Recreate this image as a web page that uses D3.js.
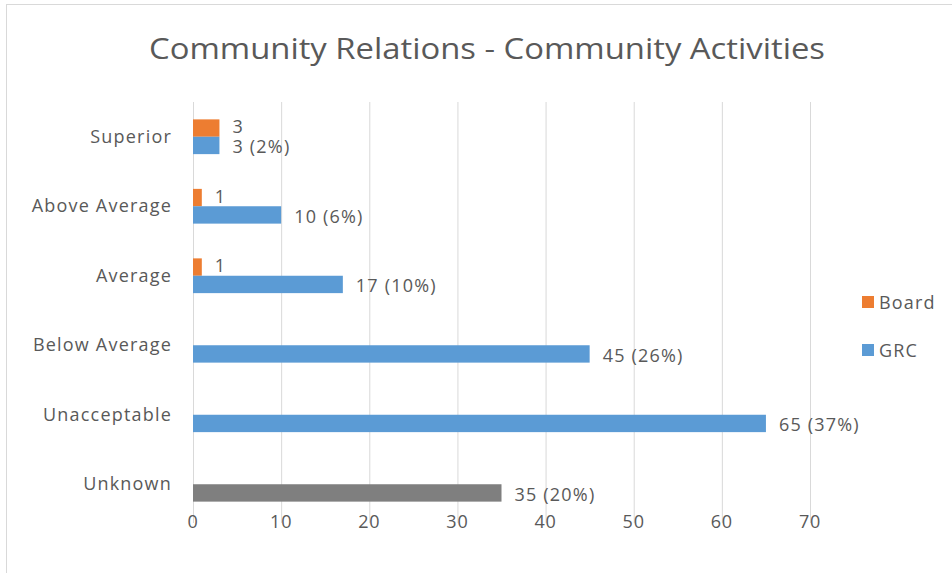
<!DOCTYPE html>
<html>
<head>
<meta charset="utf-8">
<script src="https://cdn.jsdelivr.net/npm/d3@7/dist/d3.min.js"></script>
<style>
  html, body { margin: 0; padding: 0; background: #fff; }
  svg { display: block; font-family: "Open Sans", "Noto Sans", sans-serif; }
</style>
</head>
<body>
<svg id="chart" width="952" height="573"></svg>
<script>
// Ratings and counts per rater group
const categories = ["Superior", "Above Average", "Average", "Below Average", "Unacceptable", "Unknown"];
const boardValues = [3, 1, 1, 0, 0, 0];
const grcValues = [3, 10, 17, 45, 65, 35];
const xTicks = [0, 10, 20, 30, 40, 50, 60, 70];
const seriesNames = ["Board", "GRC"];
const seriesColors = ["#ED7D31", "#5B9BD5"];
const unknownColor = "#7F7F7F";
const titleText = "Community Relations - Community Activities";

const svg = d3.select("#chart");
const textColor = "#595959";
const labelFont = 18;
const labelSpacing = 1.2;

// chart frame
svg.append("rect")
  .attr("x", 6.5).attr("y", 4.5)
  .attr("width", 1000).attr("height", 600)
  .attr("fill", "#fff")
  .attr("stroke", "#d9d9d9");

const plot = { left: 193, right: 810, top: 102, bottom: 519 };

const x = d3.scaleLinear().domain([0, 70]).range([plot.left, plot.right]);
const y = d3.scaleBand().domain(categories).range([plot.top, plot.bottom]).paddingInner(0.5).paddingOuter(0.25);
const ySeries = d3.scaleBand().domain(seriesNames).range([0, y.bandwidth()]);

// title
svg.append("text")
  .attr("x", 487).attr("y", 59)
  .attr("text-anchor", "middle")
  .attr("fill", textColor)
  .attr("font-size", 30)
  .attr("textLength", 676)
  .attr("lengthAdjust", "spacingAndGlyphs")
  .text(titleText);

// vertical gridlines
svg.append("g")
  .selectAll("line")
  .data(xTicks)
  .join("line")
  .attr("x1", d => x(d) + 0.5).attr("x2", d => x(d) + 0.5)
  .attr("y1", plot.top).attr("y2", plot.bottom + 4)
  .attr("stroke", "#d9d9d9");

// x axis tick labels
svg.append("g")
  .selectAll("text")
  .data(xTicks)
  .join("text")
  .attr("x", d => x(d))
  .attr("y", 528)
  .attr("text-anchor", "middle")
  .attr("fill", textColor)
  .attr("font-size", labelFont)
  .attr("letter-spacing", 0.8)
  .text(d => d);

// category labels
svg.append("g")
  .selectAll("text")
  .data(categories)
  .join("text")
  .attr("x", 172)
  .attr("y", d => y(d) + y.bandwidth() / 2 + 6)
  .attr("text-anchor", "end")
  .attr("fill", textColor)
  .attr("font-size", labelFont)
  .attr("letter-spacing", labelSpacing)
  .text(d => d);

const total = d3.sum(grcValues);
const rows = categories.map((c, i) => ({ c, board: boardValues[i], grc: grcValues[i] }));

// Board bars
const boardRows = rows.filter(r => r.board > 0);
svg.append("g")
  .selectAll("rect")
  .data(boardRows)
  .join("rect")
  .attr("x", x(0))
  .attr("y", d => y(d.c) + ySeries("Board"))
  .attr("width", d => x(d.board) - x(0))
  .attr("height", ySeries.bandwidth())
  .attr("fill", seriesColors[0]);

svg.append("g")
  .selectAll("text")
  .data(boardRows)
  .join("text")
  .attr("x", d => x(d.board) + 13)
  .attr("y", d => y(d.c) + ySeries("Board") + ySeries.bandwidth() / 2 + 5)
  .attr("fill", textColor)
  .attr("font-size", labelFont)
  .attr("letter-spacing", labelSpacing)
  .text(d => d.board);

// GRC bars (Unknown shown in gray)
svg.append("g")
  .selectAll("rect")
  .data(rows)
  .join("rect")
  .attr("x", x(0))
  .attr("y", d => y(d.c) + ySeries("GRC"))
  .attr("width", d => x(d.grc) - x(0))
  .attr("height", ySeries.bandwidth())
  .attr("fill", d => d.c === "Unknown" ? unknownColor : seriesColors[1]);

svg.append("g")
  .selectAll("text")
  .data(rows)
  .join("text")
  .attr("x", d => x(d.grc) + 13)
  .attr("y", d => y(d.c) + ySeries("GRC") + ySeries.bandwidth() / 2 + 8)
  .attr("fill", textColor)
  .attr("font-size", labelFont)
  .attr("letter-spacing", labelSpacing)
  .text(d => `${d.grc} (${Math.round(d.grc / total * 100)}%)`);

// legend
const legend = svg.append("g").attr("transform", "translate(862,296)");
seriesNames.forEach((name, i) => {
  const g = legend.append("g").attr("transform", `translate(0,${i * 48})`);
  g.append("rect").attr("width", 12).attr("height", 12).attr("fill", seriesColors[i]);
  g.append("text").attr("x", 17).attr("y", 13).attr("fill", textColor)
    .attr("font-size", labelFont).attr("letter-spacing", labelSpacing).text(name);
});
</script>
</body>
</html>
